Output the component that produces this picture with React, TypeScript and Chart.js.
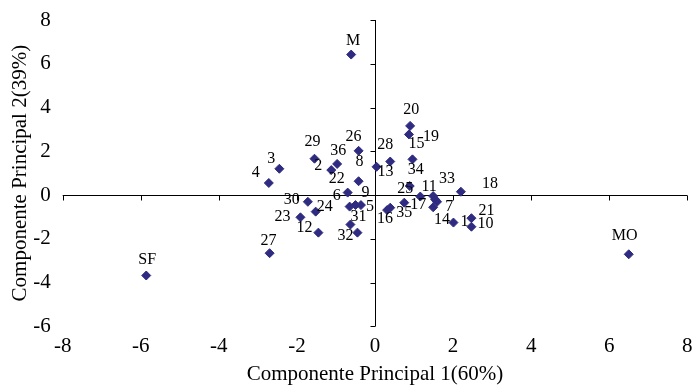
import React, { useEffect, useRef } from "react";
import { Chart, registerables } from "chart.js";

Chart.register(...registerables);

const pointNames = ["M", "MO", "SF", "27", "26", "29", "36", "2", "3", "4", "8", "6", "22", "9", "5", "13", "28", "30", "24", "23", "12", "31", "32", "16", "35", "25", "20", "19", "15", "34", "17", "11", "33", "18", "14", "7", "1", "21", "10"];
const pc1Values = [-0.61, 6.50, -5.86, -2.70, -0.42, -1.55, -0.97, -1.12, -2.45, -2.72, -0.42, -0.65, -0.70, -0.50, -0.36, 0.04, 0.39, -1.72, -1.52, -1.91, -1.45, -0.63, -0.45, 0.31, 0.39, 0.75, 0.90, 0.87, 0.96, 0.89, 1.16, 1.49, 1.54, 2.20, 1.59, 1.49, 2.01, 2.47, 2.47];
const pc2Values = [6.42, -2.71, -3.68, -2.66, 2.02, 1.66, 1.42, 1.14, 1.20, 0.55, 0.63, -0.53, 0.11, -0.46, -0.46, 1.29, 1.53, -0.31, -0.76, -1.02, -1.72, -1.35, -1.72, -0.69, -0.58, -0.35, 3.16, 2.77, 1.63, 0.41, -0.07, -0.05, -0.20, 0.15, -0.31, -0.56, -1.26, -1.06, -1.45];

// label offsets (pixels) relative to each marker
const labelDx = [2, -4, 1, -1, -5, -2, 1, -13, -8, -13, 1, -13, -11, 10, 9, 9, -5, -16, 9, -18, -14, 8, -12, -2, 14, 1, 1, 22, 4, 6, -2, -4, 12, 29, 5, 16, 11, 15, 14];
const labelDy = [-14, -18, -16, -12, -14, -17, -13, -4, -10, -10, -19, -11, -14, -12, 2, 5, -17, -2, -5, -1, -5, -8, 3, 9, 5, -14, -16, 2, -16, -16, 8, -9, -21, -8, 18, 0, -1, -7, -3];

const xTicks = [-8, -6, -4, -2, 0, 2, 4, 6, 8];
const yTicks = [-6, -4, -2, 0, 2, 4, 6, 8];
const xTitle = "Componente Principal 1(60%)";
const yTitle = "Componente Principal 2(39%)";

const FONT = "'Liberation Serif', 'Times New Roman', serif";
const MARKER = "#2E2B80";

const axesPlugin = {
  id: "zeroAxes",
  beforeDatasetsDraw(chart: any) {
    const { ctx, chartArea, scales } = chart;
    const x0 = Math.round(scales.x.getPixelForValue(0)) + 0.5;
    const y0 = Math.round(scales.y.getPixelForValue(0)) + 0.5;
    ctx.save();
    ctx.strokeStyle = "#000";
    ctx.lineWidth = 1;
    ctx.beginPath();
    ctx.moveTo(x0, chartArea.top);
    ctx.lineTo(x0, chartArea.bottom);
    ctx.moveTo(chartArea.left, y0);
    ctx.lineTo(chartArea.right, y0);
    for (const v of yTicks) {
      const py = Math.round(scales.y.getPixelForValue(v)) + 0.5;
      ctx.moveTo(x0 - 5, py);
      ctx.lineTo(x0, py);
    }
    for (const v of xTicks) {
      const px = Math.round(scales.x.getPixelForValue(v)) + 0.5;
      ctx.moveTo(px, y0);
      ctx.lineTo(px, y0 + 5);
    }
    ctx.stroke();
    ctx.restore();
  },
};

const labelPlugin = {
  id: "pointLabels",
  afterDatasetsDraw(chart: any) {
    const { ctx } = chart;
    const meta = chart.getDatasetMeta(0);
    ctx.save();
    ctx.font = `16px ${FONT}`;
    ctx.fillStyle = "#000";
    ctx.textAlign = "center";
    ctx.textBaseline = "middle";
    meta.data.forEach((el: any, i: number) => {
      ctx.fillText(pointNames[i], el.x + labelDx[i], el.y + labelDy[i]);
    });
    ctx.restore();
  },
};

export default function App() {
  const ref = useRef<HTMLCanvasElement>(null);
  useEffect(() => {
    document.body.style.margin = "0";
    const data = pointNames.map((_, i) => ({ x: pc1Values[i], y: pc2Values[i] }));
    const chart = new Chart(ref.current!, {
      type: "scatter",
      data: {
        datasets: [
          {
            data,
            pointStyle: "rectRot",
            pointRadius: 4.5,
            pointBackgroundColor: MARKER,
            pointBorderColor: MARKER,
            pointBorderWidth: 1,
          },
        ],
      },
      options: {
        animation: false,
        responsive: false,
        events: [],
        layout: { padding: { top: 20, right: 8.7, left: 0, bottom: 0 } },
        plugins: { legend: { display: false }, tooltip: { enabled: false } },
        scales: {
          x: {
            type: "linear",
            min: -8,
            max: 8,
            afterBuildTicks: (s: any) => { s.ticks = xTicks.map((v) => ({ value: v })); },
            afterFit: (s: any) => { s.height = 58.75; s.paddingLeft = 0; s.paddingRight = 0; },
            grid: { display: false, drawTicks: false },
            border: { display: false },
            ticks: { color: "#000", font: { family: FONT, size: 21 }, padding: 8 },
            title: { display: true, text: xTitle, color: "#000", font: { family: FONT, size: 21 }, padding: { top: 0, bottom: -2 } },
          },
          y: {
            type: "linear",
            min: -6,
            max: 8,
            afterBuildTicks: (s: any) => { s.ticks = yTicks.map((v) => ({ value: v })); },
            afterFit: (s: any) => { s.width = 62.7; s.paddingTop = 0; s.paddingBottom = 0; },
            grid: { display: false, drawTicks: false },
            border: { display: false },
            ticks: { color: "#000", font: { family: FONT, size: 21 }, padding: 12 },
            title: { display: true, text: yTitle, color: "#000", font: { family: FONT, size: 21 }, padding: { top: 8, bottom: 0 } },
          },
        },
      },
      plugins: [axesPlugin, labelPlugin],
    });
    return () => chart.destroy();
  }, []);
  return <canvas ref={ref} width={696} height={385} style={{ display: "block" }} />;
}
